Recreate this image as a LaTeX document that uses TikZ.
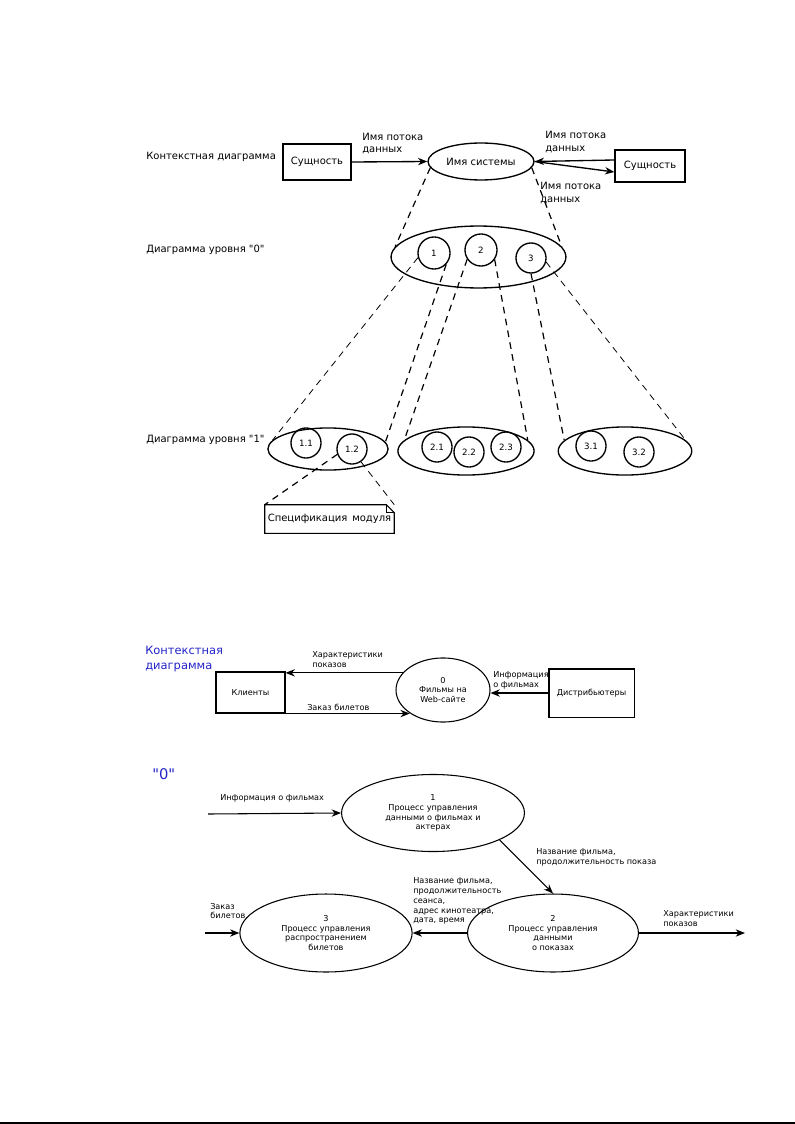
\documentclass[tikz,border=0pt]{standalone}
\usepackage{fontspec}
\setmainfont{DejaVu Sans}
\usetikzlibrary{shapes.geometric,arrows.meta}

\newcommand\toptxt{\fontsize{7.5}{9.6}\selectfont}
\newcommand\smalltxt{\fontsize{6.1}{7.4}\selectfont}
\newcommand\qq{\XeTeXglyph\XeTeXcharglyph34\relax}
\definecolor{titleblue}{RGB}{35,35,200}

\tikzset{
  ent/.style={draw, line width=1pt, inner sep=0pt},
  proc/.style={draw, ellipse, line width=1pt, inner sep=0pt, align=center},
  sub/.style={draw, circle, line width=1pt, inner sep=0pt, minimum size=22.5pt,
    font=\fontsize{6.5}{7}\selectfont},
  flow/.style={line width=1pt, -{Stealth[length=7pt,width=5.5pt]}},
  lnk/.style={line width=0.9pt, dash pattern=on 5pt off 4pt},
  lbl/.style={anchor=west, inner sep=0pt, align=left},
}

\begin{document}
\begin{tikzpicture}[x=0.749pt, y=-0.749pt]
  \useasboundingbox (0,0) rectangle (795,1124);

  % context diagram (scheme)
  \node[lbl, font=\toptxt] (ctxt) at (146,157) {Контекстная диаграмма};
  \node[ent, font=\toptxt, minimum width=51pt, minimum height=27pt] (ent1) at (317,162) {Сущность};
  \node[proc, font=\toptxt, minimum width=79.4pt, minimum height=27.7pt] (sys) at (481,161.5) {Имя системы};
  \node[ent, font=\toptxt, minimum width=52.4pt, minimum height=24pt] (ent2) at (650,166) {Сущность};
  \draw[flow] (ent1.east) -- (sys.west);
  \draw[flow] ([yshift=4.5pt]ent2.west) -- (sys.east);
  \draw[flow] (sys.east) -- ([yshift=-4.5pt]ent2.west);
  \node[lbl, font=\toptxt] (lf1) at (362,143.5) {Имя потока\\данных};
  \node[lbl, font=\toptxt] (lf2) at (545,142) {Имя потока\\данных};
  \node[lbl, font=\toptxt] (lf3) at (540,193) {Имя потока\\данных};

  % level 0
  \node[lbl, font=\toptxt] (lvl0) at (146,250) {Диаграмма уровня \qq0\qq};
  \node[proc, minimum width=131pt, minimum height=46.4pt] (L0) at (478.5,257) {};
  \node[sub, minimum size=24pt] (c1) at (434,253) {1};
  \node[sub, minimum size=24pt] (c2) at (481,250) {2};
  \node[sub] (c3) at (531,258) {3};
  \draw[lnk] (sys.187) -- (L0.173);
  \draw[lnk] (sys.-7) -- (L0.7);

  % level 1
  \node[lbl, font=\toptxt] (lvl1) at (146,440) {Диаграмма уровня \qq1\qq};
  \node[proc, minimum width=90pt, minimum height=31.5pt] (e1) at (328,449) {};
  \node[proc, minimum width=102pt, minimum height=36pt] (e2) at (466,451) {};
  \node[proc, minimum width=100pt, minimum height=36pt] (e3) at (625,451) {};
  \node[sub] (c11) at (306,443) {1.1};
  \node[sub] (c12) at (352,449) {1.2};
  \node[sub] (c21) at (437,447) {2.1};
  \node[sub] (c22) at (469,452) {2.2};
  \node[sub] (c23) at (506,447) {2.3};
  \node[sub] (c31) at (591,446) {3.1};
  \node[sub] (c32) at (639,452) {3.2};
  \draw[lnk, line width=0.6pt] (c1.196) -- (e1.171);
  \draw[lnk] (c1.-43) -- (e1.7);
  \draw[lnk] (c2.214) -- (e2.170);
  \draw[lnk] (c2.-35) -- (e2.10);
  \draw[lnk] (c3.-90) -- (e3.170);
  \draw[lnk, line width=0.6pt] (c3.-15) -- (e3.10);

  % module specification
  \node[font=\toptxt, minimum width=96.6pt, minimum height=21pt, inner sep=0pt] (spec) at (329.5,519) {Спецификация\, модуля};
  \draw[line width=0.8pt] (spec.north west) -- ([xshift=-6pt]spec.north east)
    -- ([yshift=-6pt]spec.north east) -- (spec.south east) -- (spec.south west) -- cycle;
  \draw[line width=0.5pt] ([xshift=-6pt]spec.north east) -- ++(0,-6pt) -- ([yshift=-6pt]spec.north east);
  \draw[lnk] (c12.200) -- (spec.north west);
  \draw[lnk, line width=0.6pt] (c12.-55) -- (spec.north east);

  % context diagram (cinema)
  \node[lbl, font=\fontsize{8.6}{10.5}\selectfont, text=titleblue] (ctx2) at (145,659) {Контекстная\\диаграмма};
  \node[ent, line width=0.8pt, font=\smalltxt, minimum width=51.7pt, minimum height=30.7pt] (kl) at (250.5,692.5) {Клиенты};
  \node[proc, line width=0.8pt, font=\smalltxt, minimum width=70.4pt, minimum height=48pt] (f0) at (443,690) {0\\Фильмы на\\Web-сайте};
  \node[ent, line width=0.8pt, font=\smalltxt, minimum width=63.7pt, minimum height=36pt] (ds) at (591.5,693) {Дистрибьютеры};
  \draw[flow, line width=0.8pt] (f0.157) -- (f0.157 -| kl.east);
  \draw[flow, line width=0.8pt] (kl.south east) -- (kl.south east -| f0.215);
  \draw[flow, line width=0.8pt] (ds.west) -- (ds.west -| f0.east);
  \node[lbl, font=\smalltxt] (lk1) at (312,660) {Характеристики\\показов};
  \node[lbl, font=\smalltxt] (lk2) at (307,707) {Заказ билетов};
  \node[lbl, font=\smalltxt] (lk3) at (493,680) {Информация\\о фильмах};

  % level "0" (cinema)
  \node[lbl, font=\fontsize{11}{12}\selectfont, text=titleblue] (lz) at (152,774) {\qq0\qq};
  \node[proc, line width=0.8pt, font=\smalltxt, minimum width=137pt, minimum height=57.7pt] (p1) at (433,813)
    {1\\Процесс управления\\данными о фильмах и\\актерах};
  \node[proc, line width=0.8pt, font=\smalltxt, minimum width=128pt, minimum height=58.4pt] (p2) at (553,933)
    {2\\Процесс управления\\данными\\о показах};
  \node[proc, line width=0.8pt, font=\smalltxt, minimum width=129pt, minimum height=58.4pt] (p3) at (326,933)
    {3\\Процесс управления\\распространением\\билетов};
  \coordinate (in1) at (208,814);
  \coordinate (in3) at (205,933);
  \coordinate (out2) at (745,933);
  \draw[flow, line width=0.8pt] (in1) -- (p1.west);
  \draw[flow, line width=0.8pt] (p1.-22) -- (p2.north);
  \draw[flow, line width=0.8pt] (p2.west) -- (p3.east);
  \draw[flow, line width=0.8pt] (in3) -- (p3.west);
  \draw[flow, line width=0.8pt] (p2.east) -- (out2);
  \node[lbl, font=\smalltxt] (lp1) at (220,798) {Информация о фильмах};
  \node[lbl, font=\smalltxt] (lp2) at (536,857) {Название фильма,\\продолжительность показа};
  \node[lbl, font=\smalltxt] (lp3) at (413,901) {Название фильма,\\продолжительность\\сеанса,\\адрес кинотеатра,\\дата, время};
  \node[lbl, font=\smalltxt] (lp4) at (210,911) {Заказ\\билетов};
  \node[lbl, font=\smalltxt] (lp5) at (663,919) {Характеристики\\показов};

  % page edge
  \draw[line width=1.5pt] (0,1123) -- (795,1123);
\end{tikzpicture}
\end{document}
